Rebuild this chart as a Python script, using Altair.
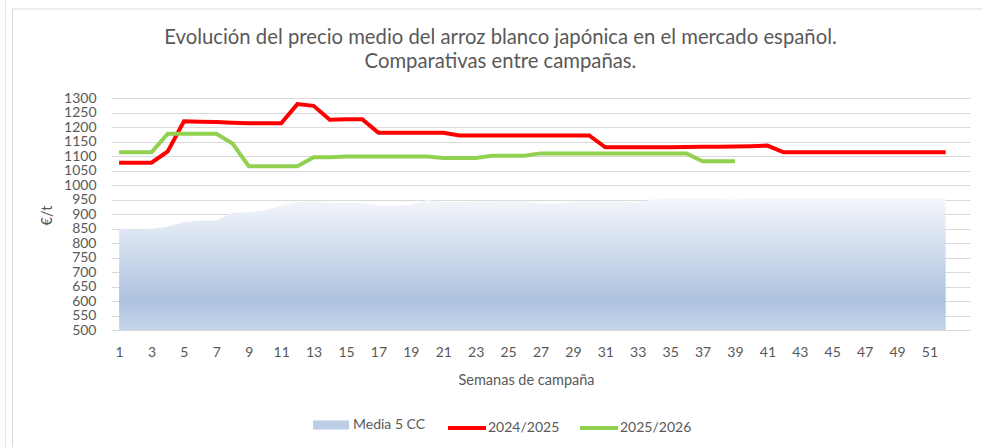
import altair as alt
import pandas as pd

# ---------------- data ----------------
weeks_media = list(range(1, 53))
media_5cc = [848, 846, 848, 856, 872, 878, 878, 904, 906, 913,
             929, 941, 943, 939, 938, 938, 929, 929, 932, 948,
             941, 941, 942, 944, 946, 946, 936, 935, 942, 944,
             944, 943, 940, 952, 955, 955, 955, 954, 949, 955,
             955, 955, 955, 955, 955, 955, 955, 955, 955, 955,
             955, 955]

weeks_2425 = list(range(1, 53))
precio_2425 = [1077, 1077, 1077, 1116, 1220, 1218, 1217, 1215, 1213, 1213,
               1213, 1279, 1273, 1225, 1227, 1227, 1180, 1180, 1180, 1180,
               1180, 1171, 1171, 1171, 1171, 1171, 1171, 1171, 1171, 1171,
               1130, 1130, 1130, 1130, 1130, 1131, 1132, 1132, 1133, 1134,
               1136, 1113, 1113, 1113, 1113, 1113, 1113, 1113, 1113, 1113,
               1113, 1113]

weeks_2526 = list(range(1, 40))
precio_2526 = [1113, 1113, 1113, 1177, 1177, 1177, 1177, 1143, 1065, 1065,
               1065, 1065, 1096, 1096, 1098, 1098, 1098, 1098, 1098, 1098,
               1093, 1093, 1093, 1101, 1101, 1101, 1109, 1109, 1109, 1109,
               1109, 1109, 1109, 1109, 1109, 1109, 1082, 1082, 1082]

series_names = ["Media 5 CC", "2024/2025", "2025/2026"]
y_ticks = list(range(500, 1301, 50))
x_ticks = list(range(1, 52, 2))

title_lines = ["Evolución del precio medio del arroz blanco japónica en el mercado español.",
               "Comparativas entre campañas."]

df_media = pd.DataFrame({"semana": weeks_media, "precio": media_5cc, "serie": series_names[0]})
df_lines = pd.concat([
    pd.DataFrame({"semana": weeks_2425, "precio": precio_2425, "serie": series_names[1]}),
    pd.DataFrame({"semana": weeks_2526, "precio": precio_2526, "serie": series_names[2]}),
])

FONT = "Lato"
GRAY = "#595959"
GRID = "#d9d9d9"

x_enc = alt.X("semana:Q",
              scale=alt.Scale(domain=[0.5, 53.5], nice=False, zero=False),
              axis=alt.Axis(values=x_ticks, title="Semanas de campaña", grid=False, ticks=False,
                            domainColor=GRID, labelPadding=15, labelFlush=False,
                            labelOverlap=False, labelBound=False,
                            titleX=415, titleY=50, titleAlign="center", titleBaseline="middle",
                            format="d"))
y_enc = alt.Y("precio:Q",
              scale=alt.Scale(domain=[500, 1300], nice=False, zero=False),
              axis=alt.Axis(values=y_ticks, title="€/t", grid=True, gridColor=GRID, domain=False,
                            ticks=False, labelPadding=15, labelOverlap=False, labelBound=False,
                            titleX=-64, titleY=117,
                            titleAlign="center", titleBaseline="middle", titleAngle=270,
                            format="d"))

gradient = {
    "gradient": "linear", "x1": 0, "x2": 0, "y1": 0, "y2": 1,
    "stops": [
        {"offset": 0, "color": "#f4f7fb"},
        {"offset": 0.78, "color": "#adc2df"},
        {"offset": 1, "color": "#c6d6eb"},
    ],
}

# chart frame (decorative border lines of the chart area)
frame_v = alt.Chart().mark_rule(color=GRID, strokeWidth=1).encode(
    x=alt.value(-98.5), y=alt.value(-89), y2=alt.value(349))
frame_v2 = alt.Chart().mark_rule(color="#e6e6e6", strokeWidth=1).encode(
    x=alt.value(-105.5), y=alt.value(-98), y2=alt.value(349))
frame_h = alt.Chart().mark_rule(color=GRID, strokeWidth=1).encode(
    x=alt.value(-98.5), x2=alt.value(871), y=alt.value(-89))

area = alt.Chart(df_media).mark_area(fill=gradient, stroke=None).encode(
    x=x_enc, y=y_enc, y2=alt.datum(500)
)

area_legend = alt.Chart(df_media).mark_area(opacity=0).encode(
    x=x_enc, y=y_enc, y2=alt.datum(500),
    fill=alt.Fill("serie:N",
                  scale=alt.Scale(domain=[series_names[0]], range=["#bccde5"]),
                  legend=alt.Legend(orient="none", legendX=202, legendY=309, title=None,
                                    symbolType="M-1,-0.25H1V0.25H-1Z", symbolSize=1296,
                                    symbolOpacity=1, symbolStrokeWidth=0, labelOffset=4))
)

lines = alt.Chart(df_lines).mark_line(strokeWidth=4).encode(
    x=x_enc, y=y_enc,
    color=alt.Color("serie:N",
                    scale=alt.Scale(domain=series_names[1:], range=["#ff0000", "#92d050"]),
                    legend=alt.Legend(orient="none", direction="horizontal", legendX=335,
                                      legendY=309, title=None, symbolType="stroke",
                                      symbolStrokeWidth=4, symbolSize=1444,
                                      columnPadding=12, labelOffset=0))
)

chart = alt.layer(area, area_legend, lines, frame_v, frame_v2, frame_h).properties(
    width=859, height=232,
    autosize=alt.AutoSizeParams(type="none"),
    padding={"left": 111, "top": 98, "right": 12, "bottom": 117},
    title=alt.TitleParams(text=title_lines, font=FONT, fontSize=20.3, color=GRAY,
                          fontWeight="normal", anchor="middle", dx=-40, offset=0, dy=73,
                          lineHeight=24, frame="group"),
).configure_view(stroke=None).configure_axis(
    labelFont=FONT, labelFontSize=14, labelColor=GRAY, labelOverlap=False,
    titleFont=FONT, titleFontSize=14.5, titleColor=GRAY, titleFontWeight="normal",
).configure_legend(
    labelFont=FONT, labelFontSize=14, labelColor=GRAY,
)

chart.save("out.html", embed_options={"renderer": "svg", "actions": False})
